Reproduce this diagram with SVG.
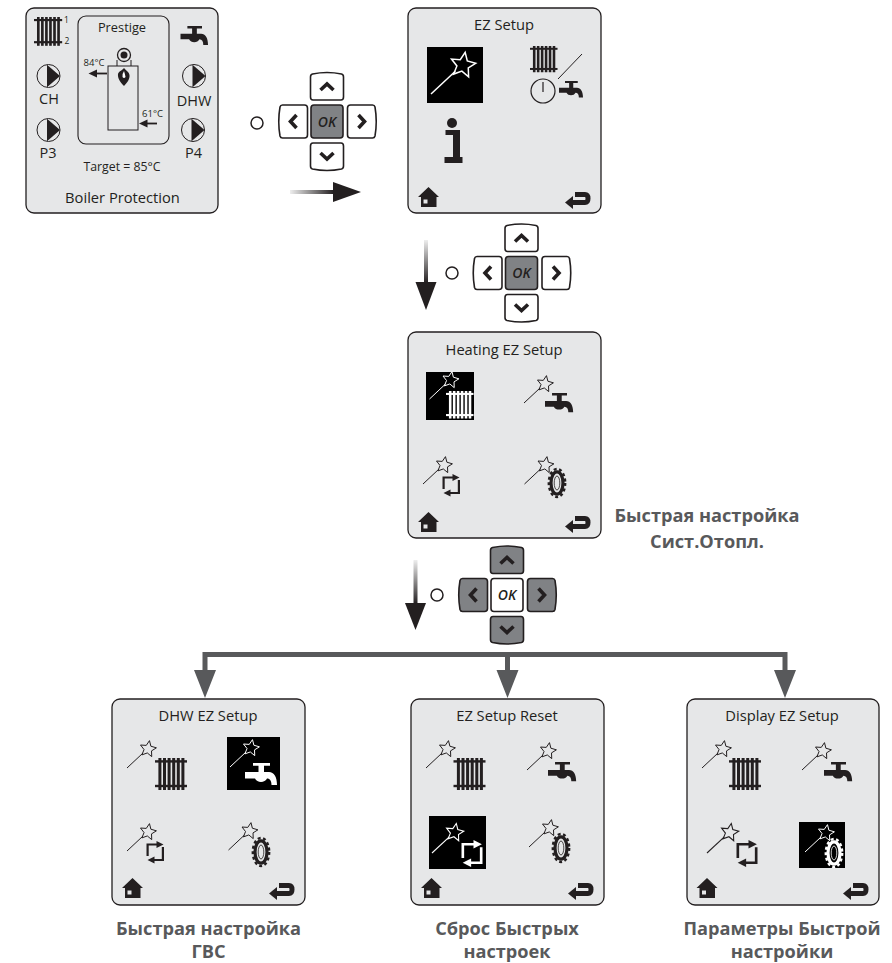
<svg xmlns="http://www.w3.org/2000/svg" width="892" height="963" viewBox="0 0 892 963">
<style>
text{font-family:"Open Sans","Noto Sans","Liberation Sans",sans-serif;fill:#231f20;text-anchor:middle}
.panel{fill:#e6e7e8;stroke:#231f20;stroke-width:1.3}
.t{font-size:14.7px}
.cap{font-size:18.2px;font-weight:700;fill:#58595b}
.btn{fill:#fff;stroke:#231f20;stroke-width:1.6}
.grey{fill:#808285}
.chev{fill:none;stroke:#231f20;stroke-width:3.6}
.ok{font-style:italic;font-weight:600;font-size:14px}
.dot{fill:#fff;stroke:#231f20;stroke-width:1.5}
.conn{fill:none;stroke:#58595b;stroke-width:5}
.head{fill:#58595b}
</style>
<defs>
<linearGradient id="gh" x1="0" x2="1" y1="0" y2="0"><stop offset="0" stop-color="#eee"/><stop offset="1" stop-color="#231f20"/></linearGradient>
<linearGradient id="gv" x1="0" x2="0" y1="0" y2="1"><stop offset="0" stop-color="#eee"/><stop offset="1" stop-color="#231f20"/></linearGradient>
<g id="wand" fill="none" stroke="currentColor" stroke-width="1">
<path d="M0 0L16-15"/>
<polygon transform="translate(21 -19)" points="1.48,-8.37 2.88,-2.78 8.42,-1.18 3.53,1.88 3.73,7.64 -.69,3.94 -6.11,5.9 -3.96,.56 -7.5,-3.99 -1.75,-3.6"/>
</g>
<g id="rad" fill="currentColor">
<rect x="0" y="2.2" width="32" height="2.4"/><rect x="0" y="26.8" width="32" height="2.4"/>
<rect x="3.4" y="0" width="3" height="32"/><rect x="8" y="0" width="3" height="32"/><rect x="12.600" y="0" width="3" height="32"/><rect x="17.200" y="0" width="3" height="32"/><rect x="21.800" y="0" width="3" height="32"/><rect x="26.400" y="0" width="3" height="32"/>
</g>
<path id="tap" fill="currentColor" d="M8 0H25V2.800H19V9H24C29 9 32 14 32 22H26.500C26.500 18 25 15.500 22 15.500C20 20 12 20 10 15.500H0V9H13.500V2.800H8Z"/>
<g id="gear" fill="none" stroke="currentColor">
<ellipse rx="8.200" ry="14" stroke-width="2.400" stroke-dasharray="3 2.500"/>
<ellipse rx="6" ry="11.200" stroke-width="3.200"/>
<ellipse rx="2.800" ry="7" stroke-width=".8"/>
</g>
<g id="loop" fill="currentColor">
<path d="M1.100 15V3.500H11" fill="none" stroke="currentColor" stroke-width="2.200"/><path d="M10 0L17 3.500L10 7Z"/>
<path d="M16.400 6V19H7" fill="none" stroke="currentColor" stroke-width="2.200"/><path d="M8 15.500L1 19L8 22.500Z"/>
</g>
<path id="home" fill="#231f20" fill-rule="evenodd" d="M10.500 0L21 10H18.500V20H3V10H0ZM5.500 12.500V16.500H9.500V12.500Z"/>
<g id="back"><path d="M10 2.500H20Q23 2.500 23 6.500Q23 10.500 20 10.500H6" fill="none" stroke="#231f20" stroke-width="5"/><path d="M0 10.500L8 4V17Z" fill="#231f20"/></g>
<g id="pump"><circle r="11.500" fill="none" stroke="#231f20" stroke-width="1"/><path d="M-1.500-11.200L11.500 0L-1.500 11.200Z" fill="#231f20"/></g>
<path id="bU" d="M-14.500-13Q0-16 14.500-13Q16.500-12.500 16.500-10V10Q16.500 13 14 13H-14Q-16.500 13-16.500 10V-10Q-16.500-12.500-14.500-13Z"/>
<path id="bD" d="M-14-13H14Q16.500-13 16.500-10V10Q16.500 12.500 14.500 13Q0 16-14.500 13Q-16.500 12.500-16.500 10V-10Q-16.500-13-14-13Z"/>
<path id="bL" d="M-11-16.500H11Q14-16.500 14-13.500V13.500Q14 16.500 11 16.500H-11Q-13 16.500-13.500 14.500Q-16 0-13.500-14.500Q-13-16.500-11-16.500Z"/>
<path id="bR" d="M-11-16.500H11Q13-16.500 13.500-14.500Q16 0 13.500 14.500Q13 16.500 11 16.500H-11Q-14 16.500-14 13.500V-13.500Q-14-16.500-11-16.500Z"/>
<rect id="bO" x="-16" y="-16.500" width="32" height="33" rx="3"/>
<path id="cU" d="M-6.500 3L0-3L6.500 3"/><path id="cD" d="M-6.500-3L0 3L6.500-3"/><path id="cL" d="M3-6.500L-3 0L3 6.500"/><path id="cR" d="M-3-6.500L3 0L-3 6.500"/>
</defs>

<g id="connectors">
<rect x="290" y="190" width="44" height="4" fill="url(#gh)"/><path d="M333 182L361 192L333 202Z" fill="#231f20"/>
<rect x="424" y="240" width="4" height="43" fill="url(#gv)"/><path d="M415.500 282L426 310L436.500 282Z" fill="#231f20"/>
<rect x="413.500" y="560" width="4" height="44" fill="url(#gv)"/><path d="M405 603L415.500 630L426 603Z" fill="#231f20"/>
<path class="conn" d="M205 672V654.500H785V672M507.500 654.500V672"/>
<path class="head" d="M194 670H216L205 698ZM496.500 670H518.500L507.500 698ZM774 670H796L785 698Z"/>
</g>

<g id="screen-boiler">
<rect class="panel" x="26" y="8" width="192" height="205" rx="8"/>
<rect x="78" y="16" width="91" height="128" rx="8" fill="none" stroke="#231f20" stroke-width="1.1"/>
<use href="#rad" transform="translate(34 17) scale(.88 .9)" color="#231f20"/>
<text x="66.500" y="23" style="font-size:8.500px">1</text><text x="67" y="44" style="font-size:8.500px">2</text>
<use href="#tap" transform="translate(180.500 26) scale(.86)" color="#231f20"/>
<text x="122" y="32" style="font-size:12.800px">Prestige</text>
<rect x="108" y="66" width="30" height="64" fill="none" stroke="#231f20" stroke-width="1"/>
<path d="M117 66V60M131 66V60" stroke="#231f20" fill="none"/>
<circle cx="124" cy="55" r="6.500" fill="none" stroke="#231f20" stroke-width="1.300"/><circle cx="124" cy="55" r="3.500" fill="#231f20"/>
<path d="M124 86C120 82 117.500 78 118 74C119 71 121.500 71 124 68C126.500 71 129 72 129.500 75C130 79 127 83 124 86Z" fill="#231f20"/><path d="M124 71Q122 74 122.500 77Q124 79 125.500 77Q125 74 124 71Z" fill="#fff"/>
<path d="M107 73.500H95" stroke="#231f20" stroke-width="1.800"/><path d="M88.500 73.500L97 69.500V77.500Z" fill="#231f20"/>
<path d="M157 123.500H146" stroke="#231f20" stroke-width="1.800"/><path d="M139 123.500L147.500 119.500V127.500Z" fill="#231f20"/>
<text x="94" y="66" style="font-size:9.500px">84°C</text><text x="152.500" y="117" style="font-size:9.500px">61°C</text>
<use href="#pump" x="48.500" y="76"/><use href="#pump" x="48.500" y="130"/><use href="#pump" x="194" y="76"/><use href="#pump" x="193" y="130"/>
<text x="49" y="103.500" style="font-size:14.500px">CH</text><text x="48" y="157.500" style="font-size:14.500px">P3</text>
<text x="194" y="105.500" style="font-size:14.500px">DHW</text><text x="193.500" y="157.500" style="font-size:14.500px">P4</text>
<text x="122" y="171" style="font-size:12.300px">Target = 85°C</text>
<text x="122.500" y="203" style="font-size:14.700px">Boiler Protection</text>
</g>

<g id="keypad-1" transform="translate(327 121.500)">
<use href="#bU" class="btn" y="-34.500"/><use href="#bD" class="btn" y="34.500"/><use href="#bL" class="btn" x="-33.500"/><use href="#bR" class="btn" x="34.500"/><use href="#bO" class="btn grey"/>
<use href="#cU" class="chev" y="-34.500"/><use href="#cD" class="chev" y="34.500"/><use href="#cL" class="chev" x="-33.500"/><use href="#cR" class="chev" x="34.500"/>
<text class="ok" y="5">OK</text><circle class="dot" cx="-70" cy="1.500" r="6"/>
</g>
<g id="keypad-2" transform="translate(521.500 273)">
<use href="#bU" class="btn" y="-34.500"/><use href="#bD" class="btn" y="34.500"/><use href="#bL" class="btn" x="-33.500"/><use href="#bR" class="btn" x="34.500"/><use href="#bO" class="btn grey"/>
<use href="#cU" class="chev" y="-34.500"/><use href="#cD" class="chev" y="34.500"/><use href="#cL" class="chev" x="-33.500"/><use href="#cR" class="chev" x="34.500"/>
<text class="ok" y="5">OK</text><circle class="dot" cx="-69.500" r="6"/>
</g>
<g id="keypad-3" transform="translate(507 595)">
<use href="#bU" class="btn grey" y="-34.500"/><use href="#bD" class="btn grey" y="34.500"/><use href="#bL" class="btn grey" x="-33.500"/><use href="#bR" class="btn grey" x="34.500"/><use href="#bO" class="btn"/>
<use href="#cU" class="chev" y="-34.500"/><use href="#cD" class="chev" y="34.500"/><use href="#cL" class="chev" x="-33.500"/><use href="#cR" class="chev" x="34.500"/>
<text class="ok" y="5">OK</text><circle class="dot" cx="-70" r="6"/>
</g>

<g id="screen-ez">
<rect class="panel" x="408" y="8" width="193" height="205" rx="8"/>
<text class="t" x="504" y="30">EZ Setup</text>
<rect x="427" y="47" width="56" height="56"/>
<use href="#wand" transform="translate(431 94) scale(1.52)" color="#fff"/>
<use href="#rad" transform="translate(530 46) scale(.86 .82)" color="#231f20"/>
<path d="M558 79L582 54" stroke="#231f20" stroke-width="1"/>
<circle cx="543" cy="91" r="12" fill="none" stroke="#231f20" stroke-width="1.200"/><path d="M543 82V92" stroke="#231f20" stroke-width="1.200"/>
<use href="#tap" transform="translate(559 81) scale(.75)" color="#231f20"/>
<circle cx="452" cy="123" r="5" fill="#231f20"/>
<path d="M445.500 130H460V157H462.500V163H444.500V157H453V135H445.500Z" fill="#231f20"/>
<use href="#home" x="418" y="187"/><use href="#back" x="565" y="192"/>
</g>

<g id="screen-heating">
<rect class="panel" x="408" y="332" width="193" height="206" rx="8"/>
<text class="t" x="504" y="355">Heating EZ Setup</text>
<rect x="426" y="372" width="48" height="48"/>
<use href="#wand" x="429.500" y="399" color="#fff"/><use href="#rad" transform="translate(446 391) scale(.86)" color="#fff"/>
<use href="#wand" x="524" y="403" color="#231f20"/><use href="#tap" transform="translate(545 393) scale(.88)" color="#231f20"/>
<use href="#wand" x="423" y="484" color="#231f20"/><use href="#loop" x="442.500" y="474" color="#231f20"/>
<use href="#wand" x="524.500" y="484" color="#231f20"/><use href="#gear" x="557" y="483" color="#231f20"/>
<use href="#home" x="418" y="512"/><use href="#back" x="565" y="516"/>
</g>

<g id="screen-dhw">
<rect class="panel" x="112" y="699" width="193" height="206" rx="8"/>
<text class="t" x="208" y="721">DHW EZ Setup</text>
<use href="#wand" x="127" y="768" color="#231f20"/><use href="#rad" x="155" y="758" color="#231f20"/>
<rect x="227" y="737" width="53" height="53"/>
<use href="#wand" x="230" y="767" color="#fff"/><use href="#tap" x="245" y="763" color="#fff"/>
<use href="#wand" x="127" y="851" color="#231f20"/><use href="#loop" x="146.500" y="841" color="#231f20"/>
<use href="#wand" x="228.500" y="850" color="#231f20"/><use href="#gear" x="261" y="852" color="#231f20"/>
<use href="#home" x="122" y="878"/><use href="#back" x="269" y="883"/>
</g>

<g id="screen-reset">
<rect class="panel" x="411" y="699" width="193" height="206" rx="8"/>
<text class="t" x="507" y="721">EZ Setup Reset</text>
<use href="#wand" x="426" y="768" color="#231f20"/><use href="#rad" x="453.500" y="758" color="#231f20"/>
<use href="#wand" x="527" y="770" color="#231f20"/><use href="#tap" transform="translate(548 762) scale(.88)" color="#231f20"/>
<rect x="429" y="816" width="57" height="53"/>
<use href="#wand" transform="translate(432 853) scale(1.08)" color="#fff"/><use href="#loop" transform="translate(461.500 840) scale(1.200)" color="#fff"/>
<use href="#wand" x="529" y="847" color="#231f20"/><use href="#gear" x="561" y="848" color="#231f20"/>
<use href="#home" x="421" y="878"/><use href="#back" x="568" y="883"/>
</g>

<g id="screen-display">
<rect class="panel" x="687" y="699" width="192" height="206" rx="8"/>
<text class="t" x="782" y="721">Display EZ Setup</text>
<use href="#wand" x="702" y="768" color="#231f20"/><use href="#rad" x="729" y="758" color="#231f20"/>
<use href="#wand" x="802" y="770" color="#231f20"/><use href="#tap" transform="translate(824 762) scale(.88)" color="#231f20"/>
<use href="#wand" transform="translate(707 853) scale(1.08)" color="#231f20"/><use href="#loop" transform="translate(736.500 840) scale(1.200)" color="#231f20"/>
<rect x="799" y="822" width="46" height="46"/>
<use href="#wand" x="805" y="852" color="#fff"/><use href="#gear" x="834" y="853" color="#fff"/>
<use href="#home" x="696.500" y="878"/><use href="#back" x="843" y="883"/>
</g>

<g id="captions">
<text class="cap" x="707" y="522">Быстрая настройка</text><text class="cap" x="707" y="548">Сист.Отопл.</text>
<text class="cap" x="208.500" y="935">Быстрая настройка</text><text class="cap" x="208.500" y="958">ГВС</text>
<text class="cap" x="507" y="935">Сброс Быстрых</text><text class="cap" x="507" y="958">настроек</text>
<text class="cap" x="782" y="935">Параметры Быстрой</text><text class="cap" x="782" y="958">настройки</text>
</g>
</svg>
